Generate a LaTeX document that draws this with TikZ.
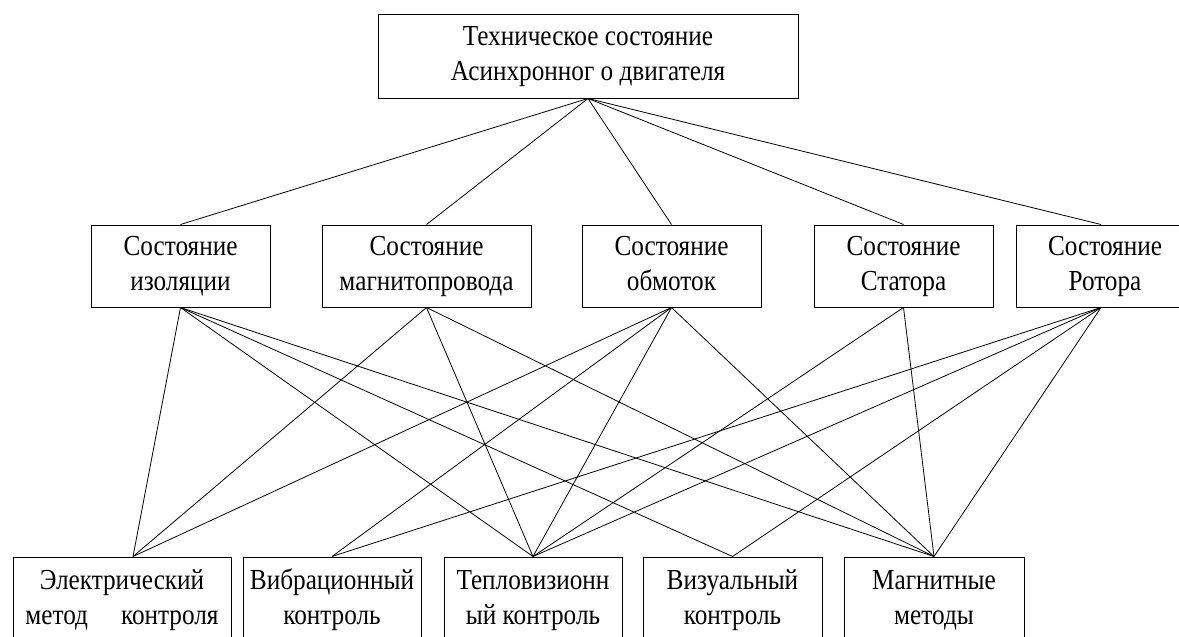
\documentclass[tikz,border=0pt]{standalone}
\usepackage{fontspec}
\setmainfont{Liberation Serif}
\newcommand{\bxt}[1]{\scalebox{0.87}[1]{\begin{tabular}{@{}c@{}}#1\end{tabular}}}
\begin{document}
\begin{tikzpicture}[x=1pt,y=-1pt,
  box/.style={draw=black, line width=1pt, inner sep=0pt, align=center,
              font=\fontsize{29}{35}\selectfont},
  link/.style={draw=black, line width=0.8pt}]
\useasboundingbox (0,0) rectangle (1179,637);
\clip (0,0) rectangle (1179,637);
% top
\node[box, minimum width=420pt, minimum height=84pt] (top) at (588,56)
  {\bxt{Техническое состояние\\Асинхронног о двигателя}};
% middle row
\node[box, minimum width=179pt, minimum height=82pt] (m1) at (180.5,266) {\bxt{Состояние\\изоляции}};
\node[box, minimum width=209pt, minimum height=82pt] (m2) at (426.5,266) {\bxt{Состояние\\магнитопровода}};
\node[box, minimum width=179pt, minimum height=82pt] (m3) at (671.5,266) {\bxt{Состояние\\обмоток}};
\node[box, minimum width=179pt, minimum height=82pt] (m4) at (903.5,266) {\bxt{Состояние\\Статора}};
\node[box, minimum width=178pt, minimum height=82pt] (m5) at (1105,266) {\bxt{Состояние\\Ротора}};
% bottom row
\node[box, minimum width=218pt, minimum height=86pt] (b1) at (122,600)
  {\bxt{Электрический\\\makebox[222pt][s]{метод контроля}}};
\node[box, minimum width=178pt, minimum height=86pt] (b2) at (332,600) {\bxt{Вибрационный\\контроль}};
\node[box, minimum width=178pt, minimum height=86pt] (b3) at (533,600) {\bxt{Тепловизионн\\ый контроль}};
\node[box, minimum width=179pt, minimum height=86pt] (b4) at (732.5,600) {\bxt{Визуальный\\контроль}};
\node[box, minimum width=180pt, minimum height=86pt] (b5) at (934,600) {\bxt{Магнитные\\методы}};
% top links
\draw[link] (top.south) -- (m1.north);
\draw[link] (top.south) -- (m2.north);
\draw[link] (top.south) -- (m3.north);
\draw[link] (top.south) -- (m4.north);
\draw[link] (top.south) -- ([xshift=-4pt]m5.north);
% lower links
\draw[link] (m1.south) -- ([xshift=11pt]b1.north);
\draw[link] (m1.south) -- (b3.north);
\draw[link] (m1.south) -- (b4.north);
\draw[link] (m1.south) -- (b5.north);
\draw[link] (m2.south) -- ([xshift=11pt]b1.north);
\draw[link] (m2.south) -- (b3.north);
\draw[link] (m2.south) -- (b5.north);
\draw[link] (m3.south) -- ([xshift=11pt]b1.north);
\draw[link] (m3.south) -- (b2.north);
\draw[link] (m3.south) -- (b3.north);
\draw[link] (m3.south) -- (b5.north);
\draw[link] (m4.south) -- (b3.north);
\draw[link] (m4.south) -- (b5.north);
\draw[link] ([xshift=-4pt]m5.south) -- (b2.north);
\draw[link] ([xshift=-4pt]m5.south) -- (b3.north);
\draw[link] ([xshift=-4pt]m5.south) -- (b4.north);
\draw[link] ([xshift=-4pt]m5.south) -- (b5.north);
\end{tikzpicture}
\end{document}
